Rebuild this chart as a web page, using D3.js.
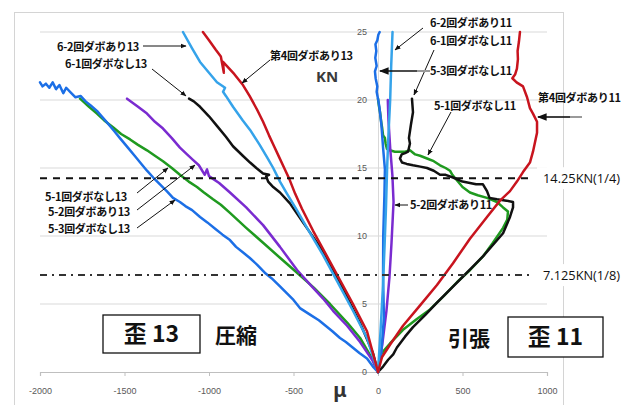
<!DOCTYPE html>
<html>
<head>
<meta charset="utf-8">
<script src="https://cdn.jsdelivr.net/npm/d3@7"></script>
<style>
  html, body { margin: 0; padding: 0; background: #fff; }
  svg { display: block; }
</style>
</head>
<body>
<svg id="chart" width="632" height="405"></svg>
<script>
// Axis ticks
const xTicks = [-2000, -1500, -1000, -500, 0, 500, 1000];
const yTicks = [0, 5, 10, 15, 20, 25];

// Reference load levels (kN)
const quarterLoad = 14.25;
const eighthLoad = 7.125;

// Strain 13 (compression side): [strain μ, load kN]
const s53_13 = [[0,0],[-30,0.4],[-65,1.0],[-110,1.4],[-150,1.8],[-190,2.2],[-225,2.5],[-270,3.0],[-310,3.4],[-350,3.8],[-400,4.2],[-462,4.7],[-500,5.3],[-540,5.8],[-580,6.3],[-630,6.9],[-670,7.3],[-716,7.9],[-760,8.4],[-800,8.8],[-840,9.2],[-876,9.7],[-920,10.1],[-960,10.5],[-1010,11.0],[-1053,11.4],[-1100,11.9],[-1140,12.2],[-1172,12.5],[-1213,12.8],[-1250,13.3],[-1290,13.8],[-1330,14.3],[-1367,14.8],[-1400,15.3],[-1440,15.9],[-1480,16.5],[-1527,17.2],[-1560,17.7],[-1600,18.3],[-1635,18.8],[-1663,19.2],[-1700,19.6],[-1730,19.9],[-1760,20.3],[-1790,20.2],[-1822,20.6],[-1845,20.9],[-1862,20.5],[-1885,21.1],[-1905,20.8],[-1925,21.3],[-1945,20.9],[-1965,21.2],[-1985,21.0],[-2000,21.3]];
const s51_13 = [[0,0],[-40,1.1],[-106,2.5],[-180,3.6],[-284,5.0],[-380,6.2],[-479,7.3],[-580,8.4],[-680,9.5],[-780,10.6],[-876,11.7],[-930,12.3],[-976,12.7],[-1030,13.2],[-1071,13.6],[-1120,14.0],[-1172,14.5],[-1220,15.0],[-1272,15.5],[-1320,15.9],[-1367,16.3],[-1420,16.7],[-1467,17.1],[-1520,17.5],[-1568,18.0],[-1620,18.5],[-1663,19.0],[-1710,19.5],[-1763,20.1]];
const s52_13 = [[0,0],[-30,0.8],[-106,2.2],[-183,3.4],[-266,4.5],[-325,5.4],[-400,6.4],[-479,7.5],[-580,9.2],[-680,10.8],[-780,12.1],[-876,13.2],[-940,13.9],[-976,14.2],[-1000,14.4],[-1012,14.9],[-1025,14.5],[-1060,15.2],[-1095,15.6],[-1130,16.0],[-1172,16.5],[-1220,17.2],[-1272,17.9],[-1320,18.4],[-1367,19.0],[-1420,19.5],[-1485,20.1]];
const s61_13 = [[0,0],[-30,1.4],[-106,3.6],[-183,5.5],[-266,7.5],[-343,9.2],[-444,11.0],[-521,12.4],[-580,13.2],[-620,13.6],[-650,14.0],[-662,14.4],[-645,14.5],[-680,14.6],[-720,15.0],[-757,15.4],[-800,15.9],[-858,16.6],[-900,17.3],[-953,18.1],[-1000,18.8],[-1053,19.5],[-1090,19.9],[-1118,20.1]];
const s62_13 = [[0,0],[-65,2.5],[-148,4.5],[-243,6.7],[-325,8.6],[-420,10.6],[-480,11.9],[-538,13.1],[-580,14.0],[-620,15.0],[-657,15.8],[-700,16.7],[-757,17.8],[-800,18.5],[-858,19.5],[-900,20.3],[-917,20.6],[-905,20.9],[-953,21.3],[-1000,22.0],[-1053,22.8],[-1100,23.8],[-1154,25.0]];
const s4_13 = [[0,0],[-65,3.0],[-148,5.0],[-266,7.7],[-385,10.4],[-450,12.0],[-490,13.1],[-525,14.2],[-555,15.0],[-585,15.8],[-615,16.6],[-645,17.4],[-680,18.4],[-716,19.3],[-760,20.3],[-799,21.1],[-850,21.9],[-880,22.3],[-917,22.8],[-912,22.0],[-930,23.2],[-960,23.7],[-1000,24.4],[-1036,25.0]];

// Strain 11 (tension side): [strain μ, load kN]
const s62_11 = [[0,0],[15,3],[28,6],[38,9],[47,12],[54,15],[62,17.5],[72,20],[78,22.5],[86,25]];
const s53_11 = [[0,0],[20,1.5],[35,4],[30,7],[31,10],[38,13],[41,14.9],[30,16.5],[20,18.2],[8,19.5],[0,20.1],[-8,20.6],[-4,21.0],[-14,21.6],[-18,22.1],[-8,22.5],[-16,23.1],[-10,23.6],[-15,24.1],[-4,24.4],[2,24.8],[10,25.0]];
const s52_11 = [[0,0],[25,2],[50,4.5],[68,7],[80,9.5],[88,11.5],[92,12.5],[85,14.5],[72,16.5],[62,18.5],[58,20]];
const s51_11 = [[0,0],[10,1.2],[30,1.5],[71,2.1],[148,3.1],[230,3.9],[308,4.6],[390,5.6],[467,6.6],[545,7.5],[621,8.5],[680,9.5],[740,10.6],[765,11.2],[769,11.8],[740,12.1],[704,12.5],[645,12.8],[590,13.0],[544,13.2],[500,13.6],[467,14.1],[440,14.5],[426,14.8],[400,15.0],[367,15.2],[330,15.5],[290,15.7],[249,15.9],[220,16.0],[189,16.3],[160,16.2],[130,16.2],[100,16.2],[70,16.3],[53,16.4],[45,16.8],[41,17.2],[30,17.4],[24,18.0],[20,18.3],[12,19.1],[5,19.6],[0,20.1]];
const s61_11 = [[0,0],[30,0.4],[60,0.9],[90,1.3],[112,1.8],[160,2.6],[207,3.3],[280,4.2],[349,5.1],[485,6.8],[621,8.5],[740,10.2],[781,11.4],[799,12.1],[799,12.5],[760,12.6],[704,12.7],[660,12.8],[645,13.3],[621,13.8],[580,13.8],[544,13.9],[500,14.0],[444,14.3],[400,14.5],[367,14.5],[330,14.8],[290,15.0],[250,15.1],[207,15.2],[170,15.3],[142,15.4],[130,15.7],[140,16.0],[160,16.1],[178,16.2],[189,16.8],[183,17.2],[195,18.2],[207,19.1],[201,20.1]];
const s4_11 = [[0,0],[24,1.1],[71,2.0],[148,3.4],[249,4.9],[349,6.4],[444,8.0],[544,9.8],[645,11.4],[722,12.6],[781,13.3],[822,14.0],[858,14.7],[899,15.4],[917,16.2],[929,16.9],[941,17.6],[941,18.4],[917,19.0],[899,19.4],[882,20.2],[858,21.0],[820,21.3],[795,21.6],[812,21.9],[822,22.3],[828,23.0],[826,23.6],[834,24.3],[840,25.0]];

const seriesList = [
  { data: s51_13, color: "#1f9a1f" },
  { data: s51_11, color: "#1f9a1f" },
  { data: s52_13, color: "#7a2bd0" },
  { data: s52_11, color: "#7a2bd0" },
  { data: s61_13, color: "#111111" },
  { data: s61_11, color: "#111111" },
  { data: s53_13, color: "#1c6fe6" },
  { data: s53_11, color: "#1c6fe6" },
  { data: s62_13, color: "#35a3ea" },
  { data: s62_11, color: "#35a3ea" },
  { data: s4_13, color: "#c8141e" },
  { data: s4_11, color: "#c8141e" }
];

const svg = d3.select("#chart");
const x = d3.scaleLinear().domain([-2000, 1000]).range([40, 547]);
const y = d3.scaleLinear().domain([0, 25]).range([372, 32]);

// Chart frame
svg.append("rect").attr("x", 14.5).attr("y", 12.5).attr("width", 549).attr("height", 420)
  .attr("fill", "none").attr("stroke", "#d4d4d4").attr("stroke-width", 1);

// Horizontal gridlines
svg.append("g").selectAll("line").data(yTicks.filter(d => d > 0)).join("line")
  .attr("x1", x(-2000)).attr("x2", x(1000))
  .attr("y1", d => y(d)).attr("y2", d => y(d))
  .attr("stroke", "#d9d9d9").attr("stroke-width", 1.2);

// X axis
const xAxis = svg.append("g").attr("transform", `translate(0,${y(0)})`)
  .call(d3.axisBottom(x).tickValues(xTicks).tickSize(4).tickPadding(12).tickFormat(d => String(d)));
xAxis.select(".domain").attr("stroke", "#bfbfbf").attr("stroke-width", 1.2);
xAxis.selectAll(".tick line").attr("stroke", "#bfbfbf");
xAxis.selectAll("text").attr("fill", "#595959").style("font-family", "Liberation Sans, Arial, sans-serif").style("font-size", "9px");

// Y axis at zero strain
const yAxis = svg.append("g").attr("transform", `translate(${x(0)},0)`)
  .call(d3.axisLeft(y).tickValues(yTicks).tickSize(0).tickPadding(11));
yAxis.select(".domain").attr("stroke", "#d9d9d9").attr("stroke-width", 1);
yAxis.selectAll("text").attr("fill", "#595959").style("font-family", "Liberation Sans, Arial, sans-serif").style("font-size", "9px");

// Load curves
const line = d3.line().x(d => x(d[0])).y(d => y(d[1])).curve(d3.curveLinear);
svg.append("g").selectAll("path").data(seriesList).join("path")
  .attr("d", d => line(d.data))
  .attr("fill", "none")
  .attr("stroke", d => d.color)
  .attr("stroke-width", 2.5)
  .attr("stroke-linejoin", "round")
  .attr("stroke-linecap", "round");

// Reference load lines
svg.append("line").attr("x1", x(-2000)).attr("x2", 533)
  .attr("y1", y(quarterLoad)).attr("y2", y(quarterLoad))
  .attr("stroke", "#111").attr("stroke-width", 2).attr("stroke-dasharray", "7,6");
svg.append("line").attr("x1", x(-2000)).attr("x2", 533)
  .attr("y1", y(eighthLoad)).attr("y2", y(eighthLoad))
  .attr("stroke", "#333").attr("stroke-width", 2).attr("stroke-dasharray", "7,5,2,5");

const refLabels = [
  { v: quarterLoad, text: "14.25KN(1/4)" },
  { v: eighthLoad, text: "7.125KN(1/8)" }
];
refLabels.forEach(r => {
  svg.append("rect").attr("x", 537).attr("y", y(r.v) - 11).attr("width", 95).attr("height", 22).attr("fill", "#fff");
  svg.append("text").attr("x", 543).attr("y", y(r.v)).attr("dy", "0.36em")
    .style("font-family", "Open Sans, Noto Sans, sans-serif").style("font-size", "12.8px")
    .attr("fill", "#111").text(r.text);
});

// Arrow marker
svg.append("defs").append("marker")
  .attr("id", "head").attr("viewBox", "0 0 10 10").attr("refX", 9).attr("refY", 5)
  .attr("markerWidth", 6).attr("markerHeight", 6).attr("orient", "auto-start-reverse")
  .append("path").attr("d", "M0,1 L10,5 L0,9 Z").attr("fill", "#111");

// Series annotations: text anchor point and arrow from -> to
const notes = [
  { t: "6-2回ダボあり13", tx: 57, ty: 47, a: [143, 46, 186, 46] },
  { t: "6-1回ダボなし13", tx: 65, ty: 64, a: [152, 69, 186, 96] },
  { t: "第4回ダボあり13", tx: 270, ty: 56, a: [270, 60, 242, 83] },
  { t: "5-1回ダボなし13", tx: 45, ty: 197, a: [137, 193, 168, 168] },
  { t: "5-2回ダボあり13", tx: 48, ty: 212, a: [137, 210, 195, 165] },
  { t: "5-3回ダボなし13", tx: 48, ty: 229, a: [137, 228, 175, 200] },
  { t: "6-2回ダボあり11", tx: 430, ty: 23, a: [423, 28, 395, 50] },
  { t: "6-1回ダボなし11", tx: 430, ty: 41, a: [434, 50, 414, 95] },
  { t: "5-3回ダボなし11", tx: 430, ty: 71, a: [417, 71, 380, 71], tail: [430, 417] },
  { t: "5-1回ダボなし11", tx: 434, ty: 106, a: [451, 112, 428, 155] },
  { t: "第4回ダボあり11", tx: 538, ty: 98, a: [570, 117, 538, 117], tail: [582, 570] },
  { t: "5-2回ダボあり11", tx: 410, ty: 205, a: [408, 205, 395, 205] }
];
const noteG = svg.append("g");
notes.forEach(n => {
  if (n.tail) {
    noteG.append("line").attr("x1", n.tail[0]).attr("x2", n.tail[1])
      .attr("y1", n.a[1]).attr("y2", n.a[1]).attr("stroke", "#9a9a9a").attr("stroke-width", 2);
  }
  noteG.append("line").attr("x1", n.a[0]).attr("y1", n.a[1]).attr("x2", n.a[2]).attr("y2", n.a[3])
    .attr("stroke", "#111").attr("stroke-width", n.tail ? 1.6 : 1).attr("marker-end", "url(#head)");
  noteG.append("text").attr("x", n.tx).attr("y", n.ty).attr("dy", "0.36em")
    .style("font-family", "Noto Sans CJK JP, sans-serif").style("font-weight", "700")
    .style("font-size", "11px").style("letter-spacing", "-0.3px").attr("fill", "#111").text(n.t);
});

// Axis unit labels
svg.append("text").attr("x", 327).attr("y", 77).attr("dy", "0.36em").attr("text-anchor", "middle")
  .style("font-family", "Noto Sans, sans-serif").style("font-weight", "700").style("font-size", "15px")
  .attr("fill", "#3a3a3a").text("KN");
svg.append("text").attr("x", 340).attr("y", 390).attr("dy", "0.36em").attr("text-anchor", "middle")
  .style("font-family", "Noto Sans, sans-serif").style("font-weight", "700").style("font-size", "20px")
  .attr("fill", "#333").text("μ");

// Strain gauge boxes and side captions
const boxes = [
  { t: "歪 13", x0: 103, y0: 315, w: 97, h: 38 },
  { t: "歪 11", x0: 508, y0: 317, w: 95, h: 40 }
];
boxes.forEach(b => {
  svg.append("rect").attr("x", b.x0).attr("y", b.y0).attr("width", b.w).attr("height", b.h)
    .attr("fill", "#fff").attr("stroke", "#111").attr("stroke-width", 1.3);
  svg.append("text").attr("x", b.x0 + b.w / 2).attr("y", b.y0 + b.h / 2).attr("dy", "0.36em")
    .attr("text-anchor", "middle")
    .style("font-family", "Noto Sans CJK JP, sans-serif").style("font-weight", "700").style("font-size", "23px")
    .attr("fill", "#111").text(b.t);
});
[{ t: "圧縮", x0: 236, y0: 335 }, { t: "引張", x0: 469, y0: 338 }].forEach(c => {
  svg.append("text").attr("x", c.x0).attr("y", c.y0).attr("dy", "0.36em").attr("text-anchor", "middle")
    .style("font-family", "Noto Sans CJK JP, sans-serif").style("font-weight", "700").style("font-size", "21px")
    .attr("fill", "#111").text(c.t);
});
</script>
</body>
</html>
